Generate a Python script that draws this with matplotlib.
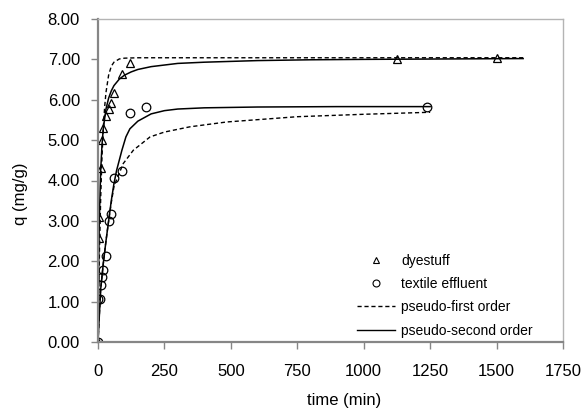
import matplotlib
matplotlib.use("Agg")
import matplotlib.pyplot as plt
from matplotlib.lines import Line2D

plt.rcParams["font.family"] = ["Liberation Sans", "DejaVu Sans"]

# measured data
t_dye = [0, 2, 5, 10, 15, 20, 30, 40, 50, 60, 90, 120, 1125, 1500]
q_dye = [0, 2.58, 3.09, 4.30, 5.00, 5.31, 5.59, 5.76, 5.93, 6.17, 6.65, 6.91, 7.00, 7.03]

t_tex = [0, 1, 7, 10, 15, 20, 30, 40, 50, 60, 90, 120, 180, 1240]
q_tex = [0, 1.06, 1.06, 1.41, 1.60, 1.78, 2.13, 3.00, 3.17, 4.07, 4.24, 5.66, 5.83, 5.83]

# model curves
t_dye_pfo = [0, 2, 5, 10, 15, 20, 25, 30, 40, 50, 60, 80, 100, 150, 300, 800, 1600]
q_dye_pfo = [0, 0.92, 2.08, 3.54, 4.58, 5.30, 5.82, 6.18, 6.61, 6.83, 6.93, 7.01, 7.03, 7.04, 7.04, 7.04, 7.04]

t_dye_pso = [0, 2, 5, 10, 15, 20, 30, 40, 50, 60, 80, 100, 125, 150, 200, 300, 400, 600, 800, 1000, 1300, 1600]
q_dye_pso = [0, 1.63, 3.02, 4.23, 4.88, 5.29, 5.77, 6.04, 6.22, 6.35, 6.51, 6.61, 6.69, 6.75, 6.82,
             6.90, 6.93, 6.97, 6.99, 7.00, 7.01, 7.02]

t_tex_pfo = [0, 5, 10, 20, 30, 40, 50, 60, 75, 95, 133, 196, 250, 346, 485, 750, 1000, 1250]
q_tex_pfo = [0, 0.65, 1.30, 1.95, 2.50, 3.00, 3.45, 3.85, 4.10, 4.42, 4.75, 5.08, 5.20, 5.33, 5.45,
             5.58, 5.64, 5.69]

t_tex_pso = [0, 5, 10, 20, 30, 40, 50, 60, 70, 90, 105, 120, 150, 200, 250, 300, 400, 600, 900, 1250]
q_tex_pso = [0, 0.65, 1.30, 1.95, 2.50, 3.00, 3.50, 3.92, 4.25, 4.75, 5.08, 5.28, 5.47, 5.65, 5.73,
             5.77, 5.80, 5.82, 5.83, 5.83]

fig = plt.figure(figsize=(5.84, 4.17), dpi=100)
ax = fig.add_axes([98 / 584, 1 - 342 / 417, (563 - 98) / 584, (342 - 19) / 417])

ax.plot(t_dye_pfo, q_dye_pfo, color="black", lw=1.0, ls=(0, (3, 2)))
ax.plot(t_tex_pfo, q_tex_pfo, color="black", lw=1.0, ls=(0, (3, 2)))
ax.plot(t_dye_pso, q_dye_pso, color="black", lw=1.1)
ax.plot(t_tex_pso, q_tex_pso, color="black", lw=1.1)

ax.plot(t_dye, q_dye, ls="none", marker="^", ms=6.3, mfc="none", mec="black", mew=0.9)
ax.plot(t_tex, q_tex, ls="none", marker="o", ms=6.2, mfc="none", mec="black", mew=0.9)

ax.set_xlim(0, 1750)
ax.set_ylim(0, 8)
ax.set_xticks([0, 250, 500, 750, 1000, 1250, 1500, 1750])
ax.set_yticks([0, 1, 2, 3, 4, 5, 6, 7, 8])
ax.set_yticklabels(["%.2f" % v for v in ax.get_yticks()])

for s in ["left", "bottom"]:
    ax.spines[s].set_color("#868686")
    ax.spines[s].set_linewidth(1.6)
for s in ["top", "right"]:
    ax.spines[s].set_color("#b4b4b4")
    ax.spines[s].set_linewidth(1.0)
ax.tick_params(direction="out", length=5, width=1.0, color="#868686", labelsize=12,
               labelcolor="black")
ax.tick_params(axis="y", pad=8)
ax.tick_params(axis="x", pad=11)

fig.text(344 / 584, 1 - 400 / 417, "time (min)", fontsize=12, ha="center", va="center")
fig.text(20 / 584, 1 - 194 / 417, "q (mg/g)", fontsize=12, ha="center", va="center",
         rotation=90)

handles = [
    Line2D([], [], ls="none", marker="^", ms=5, mfc="none", mec="black", mew=0.8),
    Line2D([], [], ls="none", marker="o", ms=5, mfc="none", mec="black", mew=0.8),
    Line2D([], [], color="black", lw=1.0, ls=(0, (3, 2))),
    Line2D([], [], color="black", lw=1.0),
]
labels = ["dyestuff", "textile effluent", "pseudo-first order", "pseudo-second order"]
fig.legend(handles, labels, loc="upper left", bbox_to_anchor=(357 / 584, 1 - 254 / 417),
           frameon=False, fontsize=10, handlelength=2.75, handletextpad=0.43,
           labelspacing=0.66, borderpad=0, borderaxespad=0)

fig.savefig("out.png", dpi=100)
